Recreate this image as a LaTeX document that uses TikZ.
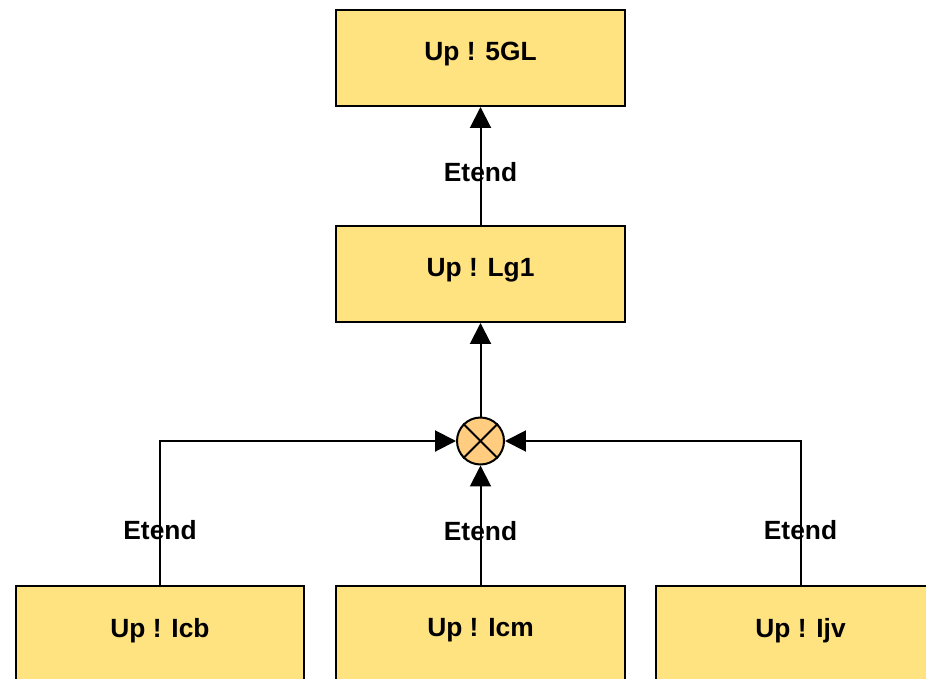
\documentclass[tikz,border=0pt]{standalone}
\usepackage{fontspec}
\setmainfont{Liberation Sans}
\usepackage{xcolor}
\usetikzlibrary{arrows.meta}

\definecolor{boxfill}{RGB}{255,227,128}
\definecolor{mixfill}{RGB}{255,204,128}

\tikzset{
  block/.style={draw, line width=0.04cm, fill=boxfill, minimum width=5.78cm, minimum height=1.92cm,
    font=\fontsize{15}{18}\selectfont\bfseries, inner sep=0pt},
  link/.style={line width=0.04cm, -{Triangle[length=0.42cm, width=0.42cm]}},
  lbl/.style={font=\fontsize{15}{18}\selectfont\bfseries, inner sep=0pt}
}

\begin{document}
\begin{tikzpicture}[x=0.02cm, y=-0.02cm]
\useasboundingbox (0,0) rectangle (926,679);
\clip (0,0) rectangle (926,679);

\node[block] (g5gl) at (480.5, 58) {\raisebox{0.9ex}{Up ! 5GL}};
\node[block] (lg1) at (480.5, 274) {\raisebox{0.9ex}{Up ! Lg1}};
\node[block] (icb) at (160, 634) {\raisebox{0.9ex}{Up ! Icb}};
\node[block] (icm) at (480.5, 634) {\raisebox{0.9ex}{Up ! Icm}};
\node[block] (ijv) at (800.5, 634) {\raisebox{0.9ex}{Up ! Ijv}};

\node[draw, circle, line width=0.04cm, fill=mixfill, minimum size=0.94cm, inner sep=0pt] (mix) at (480.5, 441) {};
\draw[line width=0.04cm] (mix.45) -- (mix.225);
\draw[line width=0.04cm] (mix.135) -- (mix.-45);

\draw[link] (lg1.north) -- node[lbl, pos=0.45] {Etend} (g5gl.south);
\draw[link] (mix.north) -- (lg1.south);
\draw[link] (icm.north) -- node[lbl, pos=0.45] {Etend} (mix.south);
\draw[link] (icb.north) |- node[lbl, pos=0.19] {Etend} (mix.west);
\draw[link] (ijv.north) |- node[lbl, pos=0.19] {Etend} (mix.east);
\end{tikzpicture}
\end{document}
